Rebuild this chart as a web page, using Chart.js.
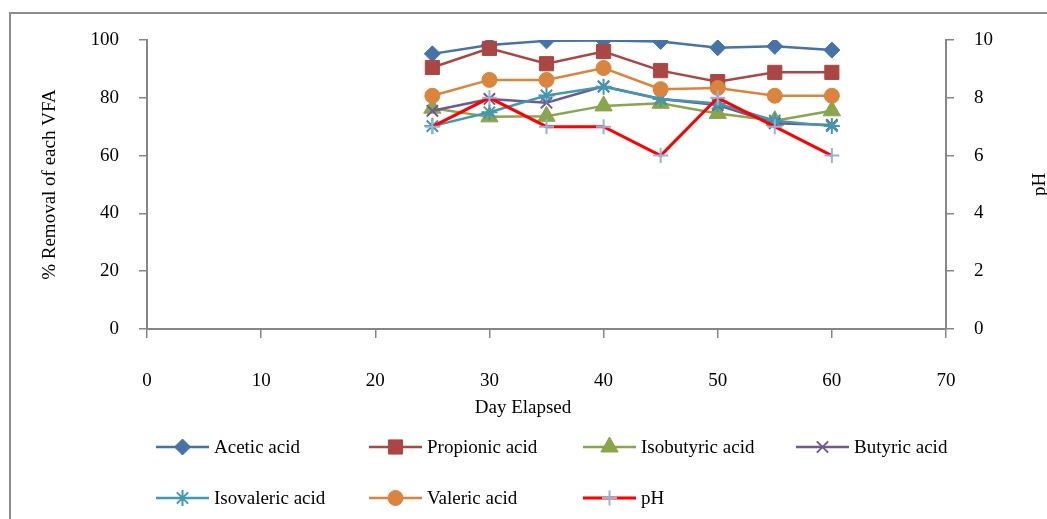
<!DOCTYPE html>
<html>
<head>
<meta charset="utf-8">
<script src="https://cdn.jsdelivr.net/npm/chart.js@4/dist/chart.umd.min.js"></script>
<style>
  html, body { margin: 0; padding: 0; background: #ffffff; }
  #wrap { width: 1047px; height: 519px; }
</style>
</head>
<body>
<div id="wrap"><canvas id="c" width="1047" height="519"></canvas></div>
<script>
// Sampling days
const days = [25, 30, 35, 40, 45, 50, 55, 60];

// Removal (%) of each volatile fatty acid
const acetic     = [95.2, 98.3, 99.7, 99.8, 99.5, 97.3, 97.8, 96.5];
const propionic  = [90.5, 97.1, 91.8, 96.0, 89.4, 85.6, 88.8, 88.8];
const isobutyric = [76.4, 73.4, 73.6, 77.2, 78.1, 74.6, 72.1, 75.5];
const butyric    = [75.5, 79.6, 78.3, 84.0, 79.6, 77.5, 71.2, 70.6];
const isovaleric = [70.2, 75.0, 80.8, 83.8, 79.6, 78.0, 72.1, 70.2];
const valeric    = [80.7, 86.2, 86.2, 90.3, 83.0, 83.4, 80.7, 80.7];

// Reactor pH
const pH = [7, 8, 7, 7, 6, 8, 7, 6];

// Axis settings
const xTicks = { min: 0, max: 70, step: 10 };
const yTicks = { min: 0, max: 100, step: 20 };
const y1Ticks = { min: 0, max: 10, step: 2 };

const FONT = 'Liberation Serif, "Times New Roman", serif';
const FONT_SIZE = 19;
const AXIS_GREY = '#868686';

const pts = vals => days.map((d, i) => ({ x: d, y: vals[i] }));

function series(label, vals, color, style, radius, axis, order, extra) {
  return Object.assign({
    label,
    data: pts(vals),
    yAxisID: axis,
    borderColor: color,
    backgroundColor: color,
    borderWidth: 2.5,
    pointStyle: style,
    pointRadius: radius,
    pointHoverRadius: radius,
    pointBackgroundColor: color,
    pointBorderColor: color,
    pointBorderWidth: 1,
    tension: 0,
    order
  }, extra || {});
}

const datasets = [
  series('Acetic acid', acetic, '#4572A7', 'rectRot', 8, 'y', 7),
  series('Propionic acid', propionic, '#AA4643', 'rect', 10, 'y', 6),
  series('Isobutyric acid', isobutyric, '#89A54E', 'triangle', 10, 'y', 5),
  series('Butyric acid', butyric, '#71588F', 'crossRot', 8, 'y', 4, { pointBorderWidth: 2 }),
  series('Isovaleric acid', isovaleric, '#4198AF', 'star', 8, 'y', 3, { pointBorderWidth: 2 }),
  series('Valeric acid', valeric, '#DB843D', 'circle', 7.5, 'y', 2),
  series('pH', pH, '#FF0000', 'cross', 7.5, 'y1', 1, {
    borderWidth: 3,
    pointBorderColor: '#95B3D7',
    pointBackgroundColor: '#95B3D7',
    pointBorderWidth: 2
  })
];

// Frame, axis titles and legend drawn around the plot
const decorations = {
  id: 'decorations',
  beforeDraw(chart) {
    const ctx = chart.ctx;
    ctx.save();
    ctx.fillStyle = '#ffffff';
    ctx.fillRect(0, 0, chart.width, chart.height);
    ctx.strokeStyle = '#8c8c8c';
    ctx.lineWidth = 2;
    ctx.beginPath();
    ctx.moveTo(10, chart.height);
    ctx.lineTo(10, 13);
    ctx.lineTo(chart.width, 13);
    ctx.stroke();
    ctx.restore();
  },
  afterDraw(chart) {
    const ctx = chart.ctx;
    const area = chart.chartArea;
    const midY = (area.top + area.bottom) / 2;
    ctx.save();
    ctx.fillStyle = '#000000';
    ctx.font = FONT_SIZE + 'px ' + FONT;
    ctx.textAlign = 'center';
    ctx.textBaseline = 'middle';

    // Axis titles
    ctx.save();
    ctx.translate(50, midY);
    ctx.rotate(-Math.PI / 2);
    ctx.fillText('% Removal of each VFA', 0, 0);
    ctx.restore();

    ctx.save();
    ctx.translate(1040, midY);
    ctx.rotate(-Math.PI / 2);
    ctx.fillText('pH', 0, 0);
    ctx.restore();

    ctx.fillText('Day Elapsed', 523, 408);

    // Legend: two rows of four / three entries
    const colX = [156, 369, 583, 796];
    const rowY = [447, 498];
    const lineLen = 53;
    chart.data.datasets.forEach((ds, i) => {
      const x0 = colX[i % 4];
      const y0 = rowY[Math.floor(i / 4)];
      ctx.strokeStyle = ds.borderColor;
      ctx.lineWidth = ds.borderWidth;
      ctx.beginPath();
      ctx.moveTo(x0, y0);
      ctx.lineTo(x0 + lineLen, y0);
      ctx.stroke();

      ctx.fillStyle = ds.pointBackgroundColor;
      ctx.strokeStyle = ds.pointBorderColor;
      ctx.lineWidth = ds.pointBorderWidth;
      Chart.helpers.drawPoint(ctx, {
        pointStyle: ds.pointStyle,
        radius: ds.pointRadius,
        borderWidth: ds.pointBorderWidth,
        rotation: 0
      }, x0 + lineLen / 2, y0);

      ctx.fillStyle = '#000000';
      ctx.textAlign = 'left';
      ctx.fillText(ds.label, x0 + lineLen + 5, y0 + 1);
    });
    ctx.restore();
  }
};

const tickFont = { family: FONT, size: FONT_SIZE };

new Chart(document.getElementById('c'), {
  type: 'line',
  data: { datasets },
  options: {
    responsive: false,
    animation: false,
    devicePixelRatio: 1,
    layout: { padding: { top: 40, left: 0, right: 0, bottom: 0 } },
    plugins: {
      legend: { display: false },
      tooltip: { enabled: false },
      title: { display: false }
    },
    scales: {
      x: {
        type: 'linear',
        position: 'bottom',
        min: xTicks.min,
        max: xTicks.max,
        ticks: { stepSize: xTicks.step, font: tickFont, color: '#000000', padding: 32, maxRotation: 0 },
        grid: { drawOnChartArea: false, drawTicks: true, tickLength: 9, color: AXIS_GREY, lineWidth: 1.5 },
        border: { color: AXIS_GREY, width: 2 },
        afterFit(s) { s.height = 190; }
      },
      y: {
        type: 'linear',
        position: 'left',
        min: yTicks.min,
        max: yTicks.max,
        ticks: { stepSize: yTicks.step, font: tickFont, color: '#000000', padding: 20 },
        grid: { drawOnChartArea: false, drawTicks: true, tickLength: 8, color: AXIS_GREY, lineWidth: 1.5 },
        border: { color: AXIS_GREY, width: 2 },
        afterFit(s) { s.width = 147; }
      },
      y1: {
        type: 'linear',
        position: 'right',
        min: y1Ticks.min,
        max: y1Ticks.max,
        ticks: { stepSize: y1Ticks.step, font: tickFont, color: '#000000', padding: 20 },
        grid: { drawOnChartArea: false, drawTicks: true, tickLength: 8, color: AXIS_GREY, lineWidth: 1.5 },
        border: { color: AXIS_GREY, width: 2 },
        afterFit(s) { s.width = 101; }
      }
    }
  },
  plugins: [decorations]
});
</script>
</body>
</html>
